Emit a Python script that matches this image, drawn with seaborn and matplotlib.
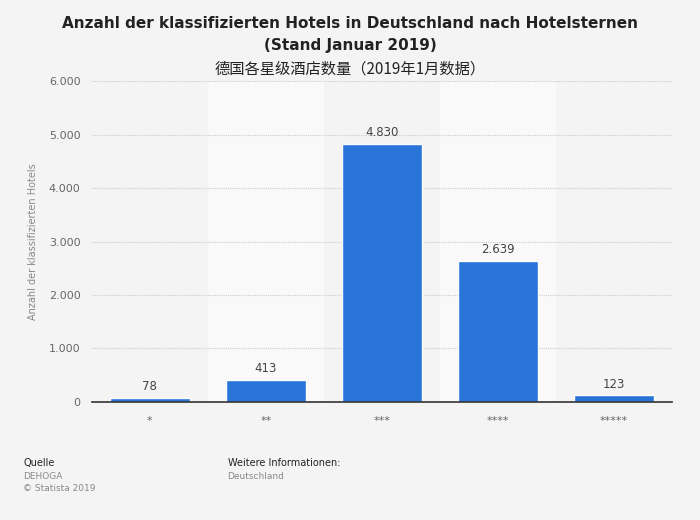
import matplotlib.pyplot as plt
import matplotlib.ticker as mticker
import pandas as pd
import seaborn as sns

# -----------------------------
# Data
# -----------------------------

STARS = ["*", "**", "***", "****", "*****"]
HOTELS = [78, 413, 4830, 2639, 123]
Y_TICKS = [0, 1000, 2000, 3000, 4000, 5000, 6000]

BAR_BLUE = "#2874d9"
BACKGROUND = "#f4f4f4"
BAND = "#f9f9f9"
TEXT_DARK = "#222222"
TEXT_GREY = "#666666"


def de_format(value, _pos=None):
    return f"{int(value):,}".replace(",", ".")


sns.set_style("white")
plt.rcParams["font.family"] = ["DejaVu Sans", "Noto Sans CJK SC"]

df = pd.DataFrame({"stars": STARS, "hotels": HOTELS})

fig = plt.figure(figsize=(7, 5.2), dpi=100, facecolor=BACKGROUND)
ax = fig.add_axes([0.131, 0.227, 0.829, 0.617])
ax.set_facecolor(BACKGROUND)

# alternating lighter column bands
for i in range(len(STARS)):
    if i % 2 == 1:
        ax.axvspan(i - 0.5, i + 0.5, color=BAND, zorder=0, lw=0)

sns.barplot(
    data=df,
    x="stars",
    y="hotels",
    color=BAR_BLUE,
    width=0.69,
    saturation=1,
    ax=ax,
    zorder=3,
)

for i, v in enumerate(HOTELS):
    ax.text(i, v + 90, de_format(v), ha="center", va="bottom",
            fontsize=8.5, color="#444444", zorder=4)

ax.set_xlim(-0.5, len(STARS) - 0.5)
ax.set_ylim(0, 6000)
ax.set_yticks(Y_TICKS)
ax.yaxis.set_major_formatter(mticker.FuncFormatter(de_format))
ax.grid(axis="y", linestyle=(0, (1, 1)), color="#cccccc", linewidth=0.8, zorder=1)
ax.set_axisbelow(True)

for side in ["top", "right", "left"]:
    ax.spines[side].set_visible(False)
ax.spines["bottom"].set_color("#333333")
ax.spines["bottom"].set_linewidth(1.2)
ax.spines["bottom"].set_zorder(5)

ax.tick_params(axis="both", length=0, labelsize=8, colors=TEXT_GREY, pad=8)
ax.tick_params(axis="x", pad=10)

ax.set_xlabel("")
ax.set_ylabel("Anzahl der klassifizierten Hotels", fontsize=7, color="#888888", labelpad=8)

fig.text(0.5, 0.955, "Anzahl der klassifizierten Hotels in Deutschland nach Hotelsternen",
         ha="center", va="center", fontsize=11, fontweight="bold", color=TEXT_DARK)
fig.text(0.5, 0.912, "(Stand Januar 2019)",
         ha="center", va="center", fontsize=11, fontweight="bold", color=TEXT_DARK)
fig.text(0.5, 0.868, "德国各星级酒店数量（2019年1月数据）",
         ha="center", va="center", fontsize=11, color=TEXT_DARK,
         family=["Noto Sans CJK SC", "DejaVu Sans"])

fig.text(0.033, 0.103, "Quelle", fontsize=7, color=TEXT_DARK)
fig.text(0.033, 0.078, "DEHOGA", fontsize=6.5, color="#888888")
fig.text(0.033, 0.055, "© Statista 2019", fontsize=6.5, color="#888888")
fig.text(0.325, 0.103, "Weitere Informationen:", fontsize=7, color=TEXT_DARK)
fig.text(0.325, 0.078, "Deutschland", fontsize=6.5, color="#888888")

fig.savefig("out.png", dpi=100, facecolor=BACKGROUND)
plt.close(fig)
